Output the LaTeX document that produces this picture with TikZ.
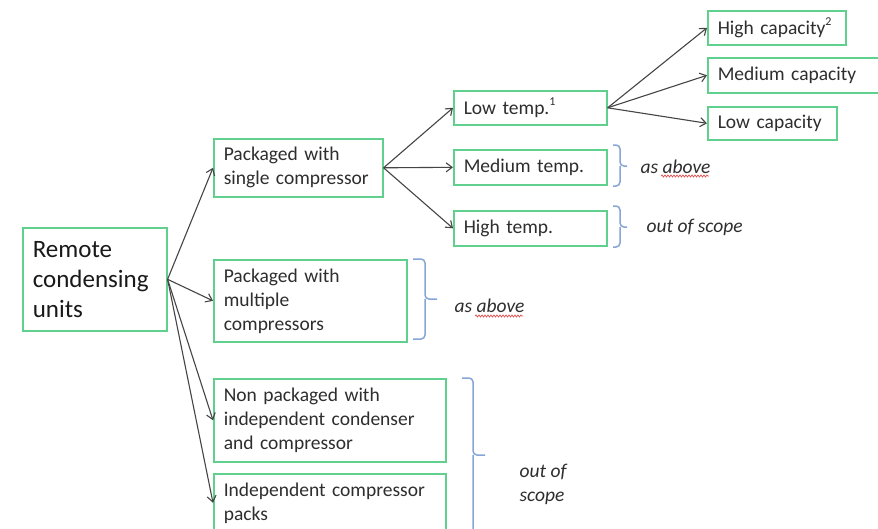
\documentclass[tikz,border=0pt]{standalone}
\usepackage{fontspec}
\setmainfont{Carlito}
\usetikzlibrary{arrows.meta,decorations.pathmorphing}
\definecolor{boxgreen}{HTML}{5FD08E}
\definecolor{txt}{HTML}{2E2E2E}
\definecolor{arr}{HTML}{454545}
\definecolor{brc}{HTML}{86A6D8}
\definecolor{spell}{HTML}{E05050}
\begin{document}
\begin{tikzpicture}[x=1pt,y=-1pt,
  box/.style={draw=boxgreen, line width=1.6pt, anchor=north west, align=left,
    inner xsep=10pt, inner ysep=0pt, text=txt, font=\fontsize{19.5}{24}\selectfont},
  conn/.style={draw=arr, line width=1.1pt, -{Straight Barb[length=6pt,width=9pt]}},
  bracestyle/.style={draw=brc, line width=1.5pt, rounded corners=4pt},
  note/.style={anchor=west, text=txt, font=\fontsize{19.5}{24}\selectfont\itshape},
  squiggle/.style={draw=spell, line width=0.7pt, decorate,
    decoration={snake, amplitude=1pt, segment length=3pt}},
  sup/.style={}]
\useasboundingbox (0,0) rectangle (878,528);
\clip (0,0) rectangle (878,528);
\fill[white] (0,0) rectangle (878,528);

\node[box, text width=124pt, minimum height=103pt, text=black!90,
      font=\fontsize{25}{30}\selectfont] (remote) at (22,227) {Remote\\condensing\\units};
\node[box, text width=149pt, minimum height=58pt] (single) at (213,138) {Packaged with\\single compressor};
\node[box, text width=173pt, minimum height=82pt] (multi) at (213,259) {Packaged with\\multiple\\compressors};
\node[box, text width=212pt, minimum height=83pt] (nonpack) at (213,378) {Non packaged with\\independent condenser\\and compressor};
\node[box, text width=212pt, minimum height=58pt] (indep) at (213,473) {Independent compressor\\packs};

\node[box, text width=133pt, minimum height=34pt] (lowt) at (453,90) {Low temp.\raisebox{0.45em}{\fontsize{12}{12}\selectfont 1}};
\node[box, text width=133pt, minimum height=35pt] (medt) at (453,149) {Medium temp.};
\node[box, text width=133pt, minimum height=35pt] (hight) at (453,210) {High temp.};

\node[box, text width=118pt, minimum height=34pt] (highc) at (707,10) {High capacity\raisebox{0.45em}{\fontsize{12}{12}\selectfont 2}};
\node[box, text width=155pt, minimum height=35pt] (medc) at (707,57) {Medium capacity};
\node[box, text width=109pt, minimum height=33pt] (lowc) at (707,106) {Low capacity};

\draw[conn] (remote.east) -- (single.west);
\draw[conn] (remote.east) -- (multi.west);
\draw[conn] (remote.east) -- (nonpack.west);
\draw[conn] (remote.east) -- (indep.west);
\draw[conn] (single.east) -- (lowt.west);
\draw[conn] (single.east) -- (medt.west);
\draw[conn] (single.east) -- (hight.west);
\draw[conn] (lowt.east) -- (highc.west);
\draw[conn] (lowt.east) -- (medc.west);
\draw[conn] (lowt.east) -- (lowc.west);

% braces
\draw[bracestyle] (613,145) -- (620,145) -- (620,166) -- (627,166);
\draw[bracestyle] (613,186) -- (620,186) -- (620,166);
\node[note] (n1) at (637,167) {as above};
\draw[bracestyle] (613,206) -- (620,206) -- (620,227) -- (627,227);
\draw[bracestyle] (613,247) -- (620,247) -- (620,227);
\node[note] (n2) at (643,227) {out of scope};
\draw[bracestyle] (413,259) -- (425,259) -- (425,299) -- (437,299);
\draw[bracestyle] (413,339) -- (425,339) -- (425,299);
\node[note] (n3) at (451,306) {as above};
\draw[bracestyle] (462,378) -- (473,378) -- (473,455) -- (485,455);
\draw[bracestyle] (462,540) -- (473,540) -- (473,455);
\node[note, align=left, font=\fontsize{19.5}{24}\selectfont\itshape] (n4) at (516,484) {out of\\scope};

% spell-check underlines
\draw[squiggle] (661,176) -- (709,176);
\draw[squiggle] (475,316) -- (523,316);
\end{tikzpicture}
\end{document}
